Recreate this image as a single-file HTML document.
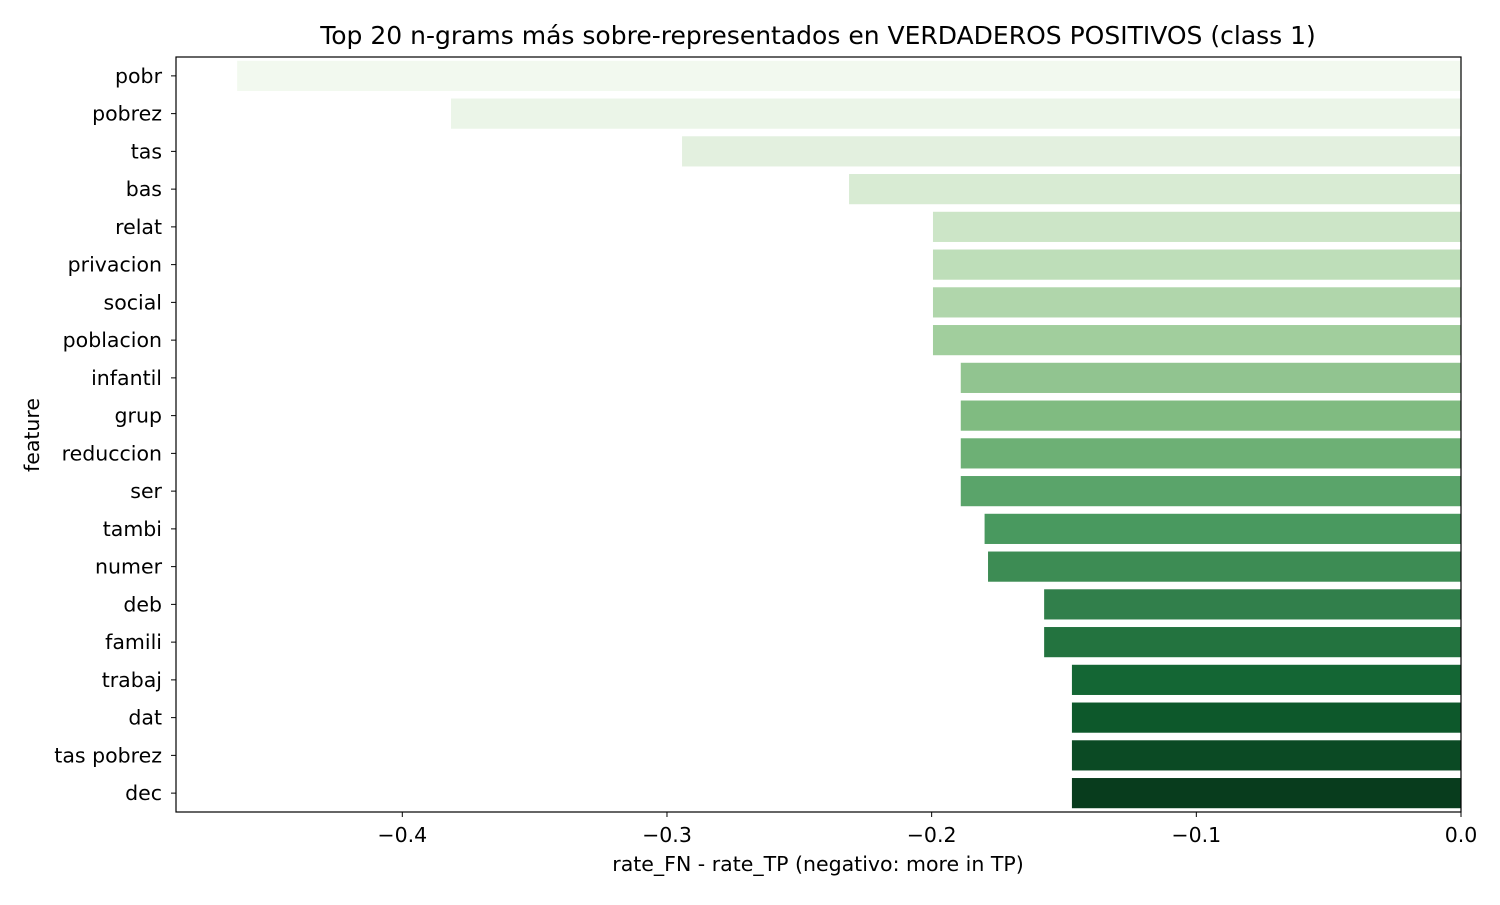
<!DOCTYPE html>
<html><head><meta charset="utf-8"><style>
body{margin:0;background:#fff;}
svg text{font-family:"DejaVu Sans","Liberation Sans",sans-serif;fill:#000;}
</style></head><body>
<svg id="chart" width="1500" height="900">
<text x="818" y="44" font-size="25" text-anchor="middle">Top 20 n-grams más sobre-representados en VERDADEROS POSITIVOS (class 1)</text>
<g id="bars"></g>
<g id="axes"></g>
<text x="818" y="871" font-size="20.5" text-anchor="middle">rate_FN - rate_TP (negativo: more in TP)</text>
<text x="0" y="0" font-size="20.5" text-anchor="middle" transform="translate(39,435) rotate(-90)">feature</text>
</svg>
<script>
const categories=["pobr","pobrez","tas","bas","relat","privacion","social","poblacion","infantil","grup","reduccion","ser","tambi","numer","deb","famili","trabaj","dat","tas pobrez","dec"];
const values=[-0.4624,-0.3816,-0.2943,-0.2312,-0.1995,-0.1995,-0.1995,-0.1995,-0.189,-0.189,-0.189,-0.189,-0.180,-0.1787,-0.1575,-0.1575,-0.147,-0.147,-0.147,-0.147];
const xTicks=[-0.4,-0.3,-0.2,-0.1,0.0];
const xTickLabels=["−0.4","−0.3","−0.2","−0.1","0.0"];
const L=176,R=1461,T=57,B=812,xmin=-0.4855,xmax=0;
const NS="http://www.w3.org/2000/svg";
const x=v=>L+(v-xmin)/(xmax-xmin)*(R-L);
const band=(B-T)/categories.length;
const y=i=>T+band*i;
const stops=[[247,252,245],[229,245,224],[199,233,192],[161,217,155],[116,196,118],[65,171,93],[35,139,69],[0,109,44],[0,68,27]];
function desat(c,s){
 let [r,g,b]=c.map(v=>v/255);const mx=Math.max(r,g,b),mn=Math.min(r,g,b),l=(mx+mn)/2;
 if(mx===mn)return c;
 const d=mx-mn;let sat=l>0.5?d/(2-mx-mn):d/(mx+mn);let h;
 if(mx===r)h=((g-b)/d+(g<b?6:0));else if(mx===g)h=(b-r)/d+2;else h=(r-g)/d+4;h/=6;
 sat*=s;
 const q=l<0.5?l*(1+sat):l+sat-l*sat,p=2*l-q;
 const f=t=>{if(t<0)t+=1;if(t>1)t-=1;if(t<1/6)return p+(q-p)*6*t;if(t<1/2)return q;if(t<2/3)return p+(q-p)*(2/3-t)*6;return p;};
 return [f(h+1/3),f(h),f(h-1/3)].map(v=>Math.round(v*255));
}
function green(t){const p=t*(stops.length-1),i=Math.min(Math.floor(p),stops.length-2),f=p-i;
 const c=stops[i].map((a,k)=>Math.round(a+(stops[i+1][k]-a)*f));return `rgb(${desat(c,0.75)})`;}
function el(tag,attrs,parent){const e=document.createElementNS(NS,tag);for(const k in attrs)e.setAttribute(k,attrs[k]);parent.appendChild(e);return e;}
const bars=document.getElementById('bars'),axes=document.getElementById('axes');
categories.forEach((c,i)=>{
 const x0=x(values[i]),x1=x(0);
 const r=el('rect',{x:Math.min(x0,x1),y:y(i)+band*0.1,width:Math.abs(x1-x0),height:band*0.8,fill:green(0.04+0.96*i/(categories.length-1))},bars);
 
 
 const tk=el('line',{x1:L,x2:L-5,y1:y(i)+band/2,y2:y(i)+band/2,stroke:'#000','stroke-width':1},axes);
 
 
 const t=el('text',{x:L-14,y:y(i)+band/2+7,'font-size':20.5,'text-anchor':'end'},axes);
 t.textContent=c;
 
 
});
xTicks.forEach((v,i)=>{
 const tk=el('line',{x1:x(v),x2:x(v),y1:B,y2:B+5,stroke:'#000','stroke-width':1},axes);
 
 
 const t=el('text',{x:x(v),y:B+30,'font-size':20.5,'text-anchor':'middle'},axes);
 t.textContent=xTickLabels[i];
 
 
});
const fr=el('rect',{x:L,y:T,width:R-L,height:B-T,fill:'none',stroke:'#000','stroke-width':1.2},axes);


</script>
</body></html>
